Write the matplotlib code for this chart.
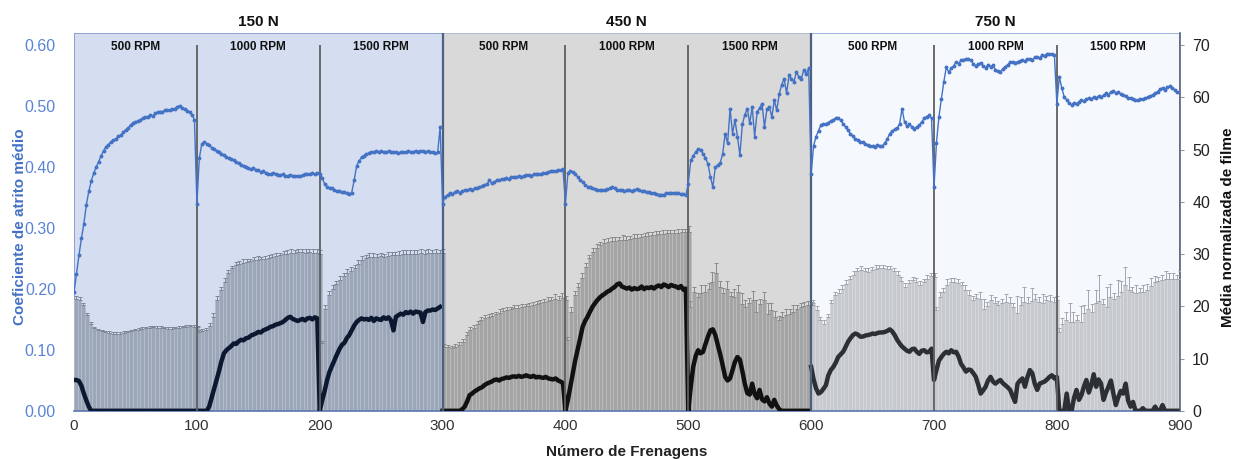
import numpy as np
import matplotlib
matplotlib.use("Agg")
import matplotlib.pyplot as plt
from matplotlib.patches import Rectangle

plt.rcParams['font.family'] = ['Liberation Sans', 'DejaVu Sans']

# ---------------- data ----------------
loads = ["150 N", "450 N", "750 N"]
speeds = ["500 RPM", "1000 RPM", "1500 RPM"]
x_ticks = [0, 100, 200, 300, 400, 500, 600, 700, 800, 900]
y_left_ticks = [0.00, 0.10, 0.20, 0.30, 0.40, 0.50, 0.60]
y_right_ticks = [0, 10, 20, 30, 40, 50, 60, 70]
block_len = 100
cof_step = 2      # friction coefficient read every 2 brakings
film_step = 2     # film line read every 2 brakings
bar_step = 3      # film bars read every 3 brakings

# Coefficient of friction (left axis), one list per 100-braking block
cof_150_500 = [0.195, 0.225, 0.255, 0.283, 0.307, 0.338, 0.360, 0.377, 0.390, 0.400,
               0.409, 0.418, 0.427, 0.433, 0.437, 0.441, 0.444, 0.446, 0.451, 0.452,
               0.457, 0.461, 0.464, 0.469, 0.472, 0.474, 0.476, 0.477, 0.481, 0.482,
               0.483, 0.485, 0.484, 0.488, 0.490, 0.491, 0.491, 0.493, 0.494, 0.493,
               0.495, 0.496, 0.499, 0.501, 0.497, 0.495, 0.492, 0.490, 0.486, 0.478]
cof_150_1000 = [0.340, 0.415, 0.438, 0.441, 0.438, 0.436, 0.432, 0.430, 0.426, 0.424,
                0.422, 0.420, 0.417, 0.415, 0.413, 0.411, 0.408, 0.406, 0.404, 0.402,
                0.400, 0.398, 0.397, 0.399, 0.395, 0.395, 0.392, 0.393, 0.390, 0.389,
                0.389, 0.390, 0.388, 0.387, 0.387, 0.388, 0.386, 0.386, 0.387, 0.386,
                0.385, 0.386, 0.385, 0.387, 0.388, 0.389, 0.388, 0.390, 0.388, 0.390]
cof_150_1500 = [0.389, 0.382, 0.372, 0.368, 0.366, 0.365, 0.362, 0.361, 0.360, 0.359,
                0.359, 0.357, 0.356, 0.358, 0.378, 0.402, 0.410, 0.416, 0.419, 0.421,
                0.423, 0.424, 0.425, 0.426, 0.425, 0.426, 0.424, 0.425, 0.426, 0.424,
                0.425, 0.424, 0.423, 0.425, 0.424, 0.425, 0.426, 0.424, 0.425, 0.427,
                0.425, 0.426, 0.427, 0.425, 0.426, 0.424, 0.425, 0.423, 0.424, 0.466]
cof_450_500 = [0.340, 0.351, 0.354, 0.357, 0.356, 0.359, 0.360, 0.358, 0.361, 0.362,
               0.362, 0.364, 0.363, 0.365, 0.366, 0.367, 0.369, 0.371, 0.372, 0.378,
               0.374, 0.376, 0.378, 0.379, 0.380, 0.381, 0.382, 0.381, 0.383, 0.384,
               0.384, 0.385, 0.384, 0.386, 0.387, 0.387, 0.386, 0.388, 0.389, 0.388,
               0.389, 0.391, 0.390, 0.392, 0.394, 0.394, 0.393, 0.396, 0.395, 0.397]
cof_450_1000 = [0.340, 0.390, 0.394, 0.392, 0.388, 0.384, 0.379, 0.375, 0.371, 0.368,
                0.367, 0.365, 0.364, 0.363, 0.362, 0.362, 0.363, 0.364, 0.365, 0.367,
                0.365, 0.363, 0.362, 0.362, 0.361, 0.362, 0.363, 0.361, 0.362, 0.364,
                0.362, 0.361, 0.360, 0.359, 0.359, 0.358, 0.357, 0.356, 0.355, 0.355,
                0.355, 0.357, 0.358, 0.358, 0.357, 0.358, 0.357, 0.356, 0.356, 0.354]
cof_450_1500 = [0.373, 0.411, 0.418, 0.425, 0.430, 0.428, 0.422, 0.415, 0.405, 0.384,
                0.367, 0.400, 0.403, 0.407, 0.422, 0.455, 0.439, 0.496, 0.455, 0.477,
                0.450, 0.420, 0.470, 0.486, 0.496, 0.472, 0.499, 0.450, 0.490, 0.497,
                0.504, 0.466, 0.495, 0.499, 0.482, 0.510, 0.493, 0.520, 0.535, 0.545,
                0.521, 0.551, 0.545, 0.540, 0.556, 0.548, 0.545, 0.559, 0.553, 0.562]
cof_750_500 = [0.389, 0.435, 0.450, 0.460, 0.469, 0.470, 0.471, 0.473, 0.476, 0.478,
               0.480, 0.480, 0.477, 0.471, 0.466, 0.461, 0.455, 0.451, 0.446, 0.444,
               0.442, 0.441, 0.438, 0.436, 0.434, 0.434, 0.433, 0.437, 0.435, 0.434,
               0.440, 0.446, 0.455, 0.459, 0.462, 0.464, 0.471, 0.496, 0.474, 0.467,
               0.470, 0.466, 0.463, 0.466, 0.469, 0.474, 0.480, 0.483, 0.485, 0.480]
cof_750_1000 = [0.367, 0.440, 0.482, 0.512, 0.540, 0.564, 0.556, 0.562, 0.566, 0.573,
                0.570, 0.575, 0.576, 0.578, 0.578, 0.575, 0.570, 0.566, 0.569, 0.571,
                0.566, 0.563, 0.568, 0.565, 0.567, 0.560, 0.557, 0.556, 0.561, 0.565,
                0.568, 0.572, 0.573, 0.571, 0.573, 0.574, 0.575, 0.574, 0.577, 0.578,
                0.576, 0.580, 0.581, 0.579, 0.584, 0.583, 0.586, 0.585, 0.586, 0.584]
cof_750_1500 = [0.504, 0.548, 0.530, 0.515, 0.510, 0.505, 0.502, 0.506, 0.504, 0.507,
                0.510, 0.508, 0.512, 0.513, 0.511, 0.515, 0.514, 0.516, 0.515, 0.518,
                0.521, 0.519, 0.523, 0.525, 0.521, 0.523, 0.520, 0.518, 0.516, 0.514,
                0.513, 0.511, 0.510, 0.510, 0.511, 0.511, 0.513, 0.515, 0.516, 0.519,
                0.521, 0.524, 0.528, 0.530, 0.527, 0.531, 0.533, 0.529, 0.527, 0.523]

# Normalised film (right axis) - thick line
film_150_500 = [5.9, 5.9, 5.7, 4.8, 3.3, 2.0, 0.8, 0.0, 0.0, 0.0,
                0.0, 0.0, 0.0, 0.0, 0.0, 0.0, 0.0, 0.0, 0.0, 0.0,
                0.0, 0.0, 0.0, 0.0, 0.0, 0.0, 0.0, 0.0, 0.0, 0.0,
                0.0, 0.0, 0.0, 0.0, 0.0, 0.0, 0.0, 0.0, 0.0, 0.0,
                0.0, 0.0, 0.0, 0.0, 0.0, 0.0, 0.0, 0.0, 0.0, 0.0]
film_150_1000 = [0.0, 0.0, 0.0, 0.0, 0.0, 0.8, 2.5, 4.2, 5.9, 7.6,
                 9.5, 11.0, 11.6, 12.0, 12.4, 12.9, 12.8, 13.3, 13.6, 13.5,
                 13.9, 14.0, 14.4, 14.6, 14.8, 15.1, 15.0, 15.4, 15.6, 15.8,
                 16.1, 16.2, 16.5, 16.6, 16.8, 17.0, 17.4, 17.8, 18.0, 17.6,
                 17.4, 17.2, 17.4, 17.6, 17.3, 17.7, 17.8, 17.5, 17.9, 17.7]
film_150_1500 = [0.0, 2.0, 3.8, 5.9, 7.5, 8.6, 9.7, 10.8, 11.8, 12.6,
                 13.0, 13.9, 14.5, 15.4, 16.3, 17.0, 17.4, 17.7, 17.5, 17.6,
                 17.4, 17.8, 17.2, 17.7, 17.5, 17.4, 17.9, 17.6, 17.9, 17.3,
                 15.4, 18.0, 18.3, 18.6, 18.4, 18.9, 18.7, 19.0, 18.6, 19.0,
                 18.9, 18.8, 17.0, 18.9, 19.2, 19.2, 19.4, 19.3, 19.6, 19.9]
film_450_500 = [0.0, 0.0, 0.0, 0.0, 0.0, 0.0, 0.0, 0.0, 0.3, 0.8,
                1.8, 3.0, 3.3, 3.7, 4.0, 4.3, 4.5, 4.9, 5.2, 5.4,
                5.6, 5.9, 6.0, 5.8, 6.1, 6.2, 6.4, 6.3, 6.5, 6.6,
                6.5, 6.7, 6.5, 6.6, 6.8, 6.6, 6.5, 6.7, 6.4, 6.5,
                6.4, 6.3, 6.5, 6.2, 6.1, 6.0, 6.2, 5.8, 5.6, 5.3]
film_450_1000 = [0.0, 2.1, 4.6, 7.0, 9.7, 11.8, 13.9, 16.1, 17.2, 18.0,
                 19.0, 19.9, 20.6, 21.2, 21.7, 22.1, 22.4, 22.8, 23.0, 23.4,
                 23.7, 24.2, 24.4, 23.8, 23.6, 23.4, 23.6, 23.2, 23.5, 23.3,
                 23.4, 23.8, 23.3, 23.6, 23.5, 23.7, 23.4, 23.8, 24.0, 23.7,
                 24.2, 24.0, 23.7, 24.1, 23.9, 23.8, 23.5, 23.9, 23.2, 23.4]
film_450_1500 = [0.0, 4.6, 8.4, 10.5, 11.6, 11.0, 11.3, 12.8, 14.2, 15.4,
                 15.6, 14.5, 12.6, 10.8, 8.7, 6.5, 5.8, 6.2, 7.8, 9.4,
                 10.3, 9.8, 7.6, 5.2, 3.4, 3.1, 5.2, 3.2, 2.4, 4.0,
                 2.2, 1.8, 2.6, 1.4, 0.8, 2.1, 1.0, 0.3, 0.0, 0.0,
                 0.0, 0.0, 0.0, 0.0, 0.0, 0.0, 0.0, 0.0, 0.0, 0.0]
film_750_500 = [8.4, 6.0, 4.3, 3.3, 3.6, 4.2, 4.9, 6.8, 7.8, 8.4,
                9.2, 10.3, 10.8, 11.3, 12.2, 13.2, 13.9, 14.5, 14.8, 14.6,
                14.2, 14.2, 14.4, 14.5, 14.6, 14.8, 14.7, 14.9, 15.0, 15.0,
                15.1, 15.3, 15.6, 15.2, 14.5, 13.6, 12.9, 12.3, 11.9, 11.5,
                11.3, 11.8, 11.9, 11.3, 10.9, 11.5, 11.6, 11.2, 11.3, 11.9]
film_750_1000 = [5.9, 7.8, 9.6, 10.3, 10.9, 11.3, 11.0, 11.6, 11.2, 11.3,
                 10.4, 9.0, 8.3, 7.5, 7.9, 7.8, 7.2, 6.5, 5.0, 3.3,
                 3.9, 4.6, 5.8, 6.5, 5.6, 5.2, 5.6, 5.9, 5.3, 4.9,
                 4.5, 4.0, 2.8, 1.7, 5.2, 5.8, 6.2, 4.6, 6.4, 7.8,
                 7.2, 5.2, 4.0, 5.2, 5.4, 5.6, 6.0, 6.5, 6.8, 6.2]
film_750_1500 = [6.5, 0.0, 0.0, 0.0, 3.3, 0.0, 0.0, 2.5, 4.0, 2.1,
                 3.0, 4.6, 5.9, 3.5, 4.9, 7.0, 4.6, 6.0, 5.2, 2.1,
                 3.5, 4.6, 5.8, 3.3, 1.1, 2.6, 3.8, 3.3, 5.2, 2.0,
                 0.8, 1.7, 0.0, 0.0, 0.0, 0.5, 0.0, 0.0, 0.0, 0.0,
                 0.8, 0.0, 0.0, 1.1, 0.0, 0.0, 0.0, 0.0, 0.0, 0.0]

# Film bars (right axis) and their upper error
bar_150_500 = [21.5, 21.2, 20.3, 18.3, 16.7, 15.8, 15.4, 15.2, 15.0, 14.9,
               14.8, 14.7, 14.8, 14.9, 15.0, 15.2, 15.4, 15.5, 15.7, 15.8,
               15.9, 16.0, 15.9, 15.9, 15.8, 15.7, 15.7, 15.8, 15.9, 16.0,
               16.1, 16.2, 16.1, 16.0]
bar_150_1000 = [15.1, 15.3, 15.4, 16.2, 18.0, 21.2, 23.2, 24.6, 26.4, 27.3,
                27.9, 28.1, 28.3, 28.5, 28.6, 28.8, 28.9, 29.0, 29.1, 29.3,
                29.5, 29.6, 29.8, 30.0, 30.1, 30.2, 30.3, 30.4, 30.4, 30.3,
                30.4, 30.3, 30.2, 30.1]
bar_150_1500 = [12.9, 19.5, 22.2, 23.4, 24.2, 25.0, 25.8, 26.4, 26.8, 27.4,
                28.2, 28.8, 29.2, 29.5, 29.5, 29.4, 29.6, 29.5, 29.7, 29.8,
                29.8, 29.9, 30.0, 30.1, 30.0, 30.1, 30.1, 30.2, 30.1, 30.2,
                30.2, 30.3, 30.2, 30.3]
bar_450_500 = [12.3, 12.2, 12.1, 12.2, 12.6, 13.1, 14.5, 15.5, 15.9, 16.6,
               17.4, 17.7, 18.0, 18.2, 18.5, 18.8, 19.1, 19.3, 19.4, 19.6,
               19.7, 19.8, 20.0, 20.1, 20.3, 20.5, 20.7, 20.9, 21.0, 21.2,
               21.5, 21.3, 21.6, 21.3]
bar_450_1000 = [13.5, 19.0, 22.2, 23.8, 25.5, 27.6, 29.2, 30.4, 31.1, 31.7,
                32.2, 32.4, 32.5, 32.6, 32.7, 32.8, 32.8, 32.9, 33.0, 33.1,
                33.3, 33.4, 33.5, 33.6, 33.7, 33.8, 33.9, 34.0, 34.0, 34.1,
                34.1, 34.2, 34.2, 34.3]
bar_450_1500 = [19.9, 22.8, 21.8, 22.6, 22.8, 23.4, 24.7, 26.3, 23.7, 22.5,
                23.4, 22.0, 21.8, 22.8, 20.5, 19.8, 20.6, 21.2, 19.0, 20.5,
                21.2, 18.6, 19.3, 18.0, 17.4, 18.0, 18.4, 18.6, 19.0, 19.4,
                19.9, 20.1, 20.2, 20.2]
bar_750_500 = [20.6, 19.3, 17.4, 16.7, 18.0, 20.6, 22.1, 22.6, 23.4, 24.3,
               25.3, 26.0, 26.7, 27.0, 26.8, 26.6, 27.0, 27.2, 27.4, 27.3,
               27.2, 27.1, 26.8, 26.0, 24.8, 23.8, 24.4, 25.0, 24.6, 24.1,
               24.7, 25.3, 25.8, 25.7]
bar_750_1000 = [19.3, 21.8, 22.8, 24.0, 24.6, 24.7, 24.4, 24.0, 23.2, 22.2,
                21.2, 21.6, 21.4, 19.5, 20.0, 21.2, 20.6, 20.2, 20.7, 20.8,
                20.6, 19.8, 18.8, 20.3, 20.9, 20.6, 21.0, 21.4, 20.8, 20.6,
                21.2, 21.0, 20.9, 21.2]
bar_750_1500 = [15.1, 16.7, 17.4, 17.1, 17.0, 17.4, 17.0, 18.8, 19.4, 19.0,
                20.6, 21.0, 20.5, 19.9, 21.8, 21.4, 22.0, 22.8, 24.1, 23.2,
                22.8, 22.5, 22.8, 22.8, 23.2, 23.9, 24.7, 24.9, 25.0, 25.3,
                25.3, 25.2, 25.2, 25.3]

err_150_500 = [0.4, 0.5, 0.4, 0.4, 0.3, 0.3, 0.3, 0.3, 0.3, 0.3,
               0.3, 0.3, 0.3, 0.3, 0.3, 0.3, 0.3, 0.3, 0.3, 0.3,
               0.3, 0.3, 0.3, 0.3, 0.3, 0.3, 0.3, 0.3, 0.3, 0.3,
               0.3, 0.3, 0.3, 0.3]
err_150_1000 = [0.4, 0.4, 0.5, 0.6, 0.7, 0.8, 0.6, 0.8, 0.6, 0.5,
                0.6, 0.5, 0.7, 0.6, 0.5, 0.6, 0.7, 0.5, 0.6, 0.5,
                0.6, 0.7, 0.5, 0.6, 0.6, 0.7, 0.5, 0.6, 0.5, 0.6,
                0.5, 0.6, 0.7, 0.6]
err_150_1500 = [0.5, 0.8, 0.7, 0.6, 0.7, 0.8, 0.6, 0.7, 0.8, 0.6,
                0.7, 0.9, 0.6, 0.7, 0.8, 0.6, 0.7, 0.6, 0.8, 0.7,
                0.6, 0.7, 0.8, 0.6, 0.7, 0.6, 0.7, 0.8, 0.6, 0.7,
                0.6, 0.7, 0.6, 0.7]
err_450_500 = [0.4, 0.4, 0.4, 0.5, 0.5, 0.6, 0.5, 0.6, 0.5, 0.6,
               0.5, 0.6, 0.5, 0.6, 0.5, 0.6, 0.5, 0.6, 0.5, 0.6,
               0.5, 0.6, 0.5, 0.6, 0.5, 0.6, 0.5, 0.6, 0.7, 0.6,
               0.8, 0.6, 0.9, 0.6]
err_450_1000 = [0.6, 0.8, 0.8, 0.7, 0.8, 0.7, 0.6, 0.7, 0.8, 0.6,
                0.7, 0.6, 0.8, 0.7, 0.6, 0.8, 0.7, 0.6, 0.8, 0.7,
                0.6, 0.7, 0.8, 0.6, 0.7, 0.6, 0.7, 0.6, 0.7, 0.6,
                0.7, 0.6, 0.7, 1.0]
err_450_1500 = [1.2, 1.0, 0.8, 1.5, 1.2, 1.0, 1.8, 2.0, 1.2, 1.0,
                1.5, 0.8, 1.6, 1.2, 2.0, 1.5, 1.0, 1.8, 2.2, 1.0,
                1.6, 2.0, 1.4, 1.2, 0.8, 0.9, 1.0, 0.8, 1.2, 0.9,
                0.8, 0.7, 0.8, 0.6]
err_750_500 = [0.6, 0.7, 0.6, 0.7, 0.6, 0.7, 0.6, 0.7, 0.6, 0.7,
               0.6, 0.7, 0.6, 0.7, 0.6, 0.7, 0.6, 0.7, 0.6, 0.7,
               0.6, 0.7, 0.6, 0.7, 0.8, 0.7, 0.6, 0.7, 0.8, 0.7,
               0.6, 0.7, 0.6, 0.7]
err_750_1000 = [0.6, 1.0, 0.8, 1.2, 0.8, 0.7, 0.9, 0.6, 0.8, 1.0,
                0.7, 0.8, 1.4, 2.0, 0.8, 0.9, 1.2, 0.8, 0.8, 1.5,
                1.1, 0.8, 3.2, 1.5, 2.8, 1.2, 2.5, 0.9, 1.0, 1.8,
                0.8, 1.2, 0.9, 0.8]
err_750_1500 = [0.8, 1.0, 1.5, 3.5, 2.0, 1.0, 3.0, 1.5, 3.8, 1.5,
                2.5, 5.0, 1.0, 3.8, 2.5, 1.2, 3.0, 2.0, 3.5, 2.5,
                1.0, 1.5, 0.8, 1.2, 1.0, 1.5, 1.2, 0.8, 1.0, 1.5,
                1.0, 1.2, 0.8, 1.5]

cof_blocks = [cof_150_500, cof_150_1000, cof_150_1500,
              cof_450_500, cof_450_1000, cof_450_1500,
              cof_750_500, cof_750_1000, cof_750_1500]
film_blocks = [film_150_500, film_150_1000, film_150_1500,
               film_450_500, film_450_1000, film_450_1500,
               film_750_500, film_750_1000, film_750_1500]
bar_blocks = [bar_150_500, bar_150_1000, bar_150_1500,
              bar_450_500, bar_450_1000, bar_450_1500,
              bar_750_500, bar_750_1000, bar_750_1500]
err_blocks = [err_150_500, err_150_1000, err_150_1500,
              err_450_500, err_450_1000, err_450_1500,
              err_750_500, err_750_1000, err_750_1500]

# ---------------- styles ----------------
bg_colors = ['#d4def0', '#d9d9d9', '#f5f8fd']
bg_edges = ['#7d97cc', '#a9b9d8', '#8ea6d6']
bar_colors = ['#9ba6b8', '#a4a4a4', '#c6c9cd']
bar_edges = ['#b4bdcc', '#bdbdbd', '#d6d8db']
err_colors = ['#7d8696', '#8a8a8a', '#a3a7ad']
film_colors = ['#0b1830', '#111111', '#2c3034']
blue = '#4472c4'
left_ymax = 0.62
right_ymax = 0.62 / 0.60 * 70

fig = plt.figure(figsize=(12.34, 4.59), dpi=100)
ax2 = fig.add_axes([0.060, 0.105, 0.896, 0.823])
ax = ax2.twinx()
ax.yaxis.set_ticks_position('left')
ax.yaxis.set_label_position('left')
ax2.yaxis.set_ticks_position('right')
ax2.yaxis.set_label_position('right')

ax.set_xlim(0, 900)
ax2.set_xlim(0, 900)
ax.set_ylim(0, left_ymax)
ax2.set_ylim(0, right_ymax)

for g in range(3):
    x0 = g * 300
    ax2.add_patch(Rectangle((x0, 0), 300, right_ymax, facecolor=bg_colors[g],
                            edgecolor=bg_edges[g], lw=1.2, zorder=0))
    for k in range(3):
        i = g * 3 + k
        start = i * block_len
        xb = start + np.arange(0, block_len, bar_step)
        vals = np.array(bar_blocks[i])
        ax2.bar(xb, vals, width=bar_step, align='edge', color=bar_colors[g],
                edgecolor=bar_edges[g], linewidth=0.6, zorder=2)
        ax2.errorbar(xb + bar_step / 2, vals,
                     yerr=[np.zeros(len(vals)), np.array(err_blocks[i])],
                     fmt='none', ecolor=err_colors[g], elinewidth=0.7,
                     capsize=1.6, capthick=0.7, zorder=3)
    xf = np.concatenate([(g * 3 + k) * block_len + np.arange(0, block_len, film_step)
                         for k in range(3)])
    yf = np.concatenate([film_blocks[g * 3 + k] for k in range(3)])
    ax2.plot(xf, yf, color=film_colors[g], lw=3.2, solid_joinstyle='round', zorder=4)

# divider lines
ax2.vlines([100, 200, 400, 500, 700, 800], 0, 70, colors='#5f5f5f', lw=1.3, zorder=5)
ax2.vlines([300, 600], 0, right_ymax, colors='#4f5f80', lw=1.6, zorder=5)

# friction coefficient line
xc = np.concatenate([i * block_len + np.arange(0, block_len, cof_step) for i in range(9)])
yc = np.concatenate(cof_blocks)
ax.plot(xc, yc, color=blue, lw=1.0, marker='o', ms=1.8, mec=blue, mfc=blue, zorder=6)

# ---------------- axes cosmetics ----------------
for a in (ax, ax2):
    for s in ('top', 'left', 'bottom', 'right'):
        a.spines[s].set_visible(False)
ax2.spines['right'].set_visible(True)
ax2.spines['right'].set_color('#56647e')
ax2.spines['right'].set_linewidth(1.2)
ax2.spines['bottom'].set_visible(True)
ax2.spines['bottom'].set_color('#5a77b0')
ax2.spines['bottom'].set_linewidth(1.2)

ax.set_xticks(x_ticks)
ax2.set_xticks(x_ticks)
ax.tick_params(axis='x', length=0, labelbottom=False)
ax2.tick_params(axis='x', length=0, labelsize=11, labelcolor='#333333', pad=6)

ax.set_yticks(y_left_ticks)
ax.set_yticklabels([f"{v:.2f}" for v in y_left_ticks])
ax.tick_params(axis='y', length=0, labelsize=11.5, labelcolor='#5b84d6', pad=13)

ax2.set_yticks(y_right_ticks)
ax2.tick_params(axis='y', length=3, width=0.8, color='#9a9a9a', labelsize=11.5,
                labelcolor='#222222', pad=6)

# titles
for g, name in enumerate(loads):
    fig.text(0.060 + 0.896 * (g * 300 + 150) / 900, 0.952, name, ha='center',
             va='center', fontsize=11, fontweight='bold', color='#111111')
    for k, sp in enumerate(speeds):
        ax2.text(g * 300 + k * 100 + 50, 69.6, sp, ha='center', va='center',
                 fontsize=8.5, fontweight='bold', color='#111111', zorder=7)

fig.text(0.508, 0.015, "Número de Frenagens", ha='center', va='center',
         fontsize=11, fontweight='bold', color='#222222')
fig.text(0.016, 0.507, "Coeficiente de atrito médio", rotation=90, ha='center',
         va='center', fontsize=11, fontweight='bold', color=blue)
fig.text(0.995, 0.505, "Média normalizada de filme", rotation=90, ha='center',
         va='center', fontsize=11, fontweight='bold', color='#111111')

fig.savefig("out.png", dpi=100)
